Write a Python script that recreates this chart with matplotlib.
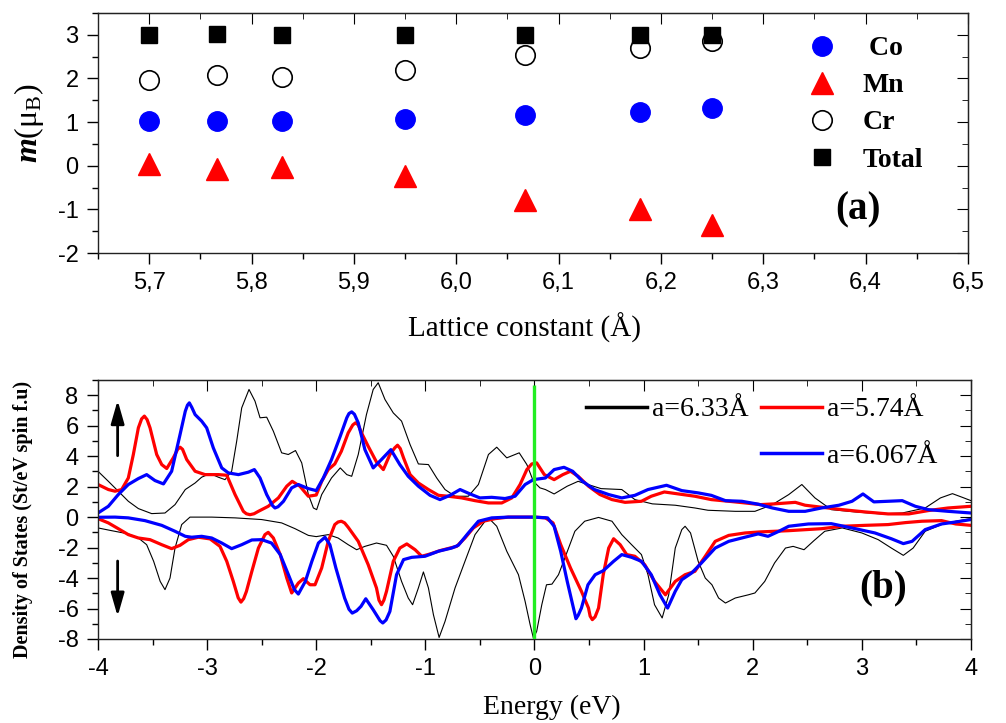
import numpy as np
import matplotlib
matplotlib.use('Agg')
from matplotlib import pyplot as plt
from matplotlib.ticker import MultipleLocator, FuncFormatter

plt.rcParams['font.family'] = ['Liberation Sans', 'DejaVu Sans']
plt.rcParams['axes.unicode_minus'] = False
plt.rcParams['mathtext.fontset'] = 'custom'
plt.rcParams['mathtext.rm'] = 'Liberation Serif'
plt.rcParams['mathtext.it'] = 'Liberation Serif:italic'
plt.rcParams['mathtext.bf'] = 'Liberation Serif:bold'
plt.rcParams['mathtext.bfit'] = 'Liberation Serif:italic:bold'

SERIF = 'Liberation Serif'

# ---- panel (a): moments vs lattice constant
lattice = [5.70, 5.766, 5.83, 5.95, 6.067, 6.18, 6.25]
m_co = [1.03, 1.03, 1.035, 1.065, 1.165, 1.23, 1.32]
m_mn = [0.05, -0.07, -0.03, -0.24, -0.78, -0.98, -1.35]
m_cr = [1.97, 2.075, 2.03, 2.20, 2.54, 2.69, 2.87]
m_total = [3.0, 3.01, 3.0, 3.0, 3.0, 3.0, 3.0]

# ---- panel (b): DOS, (energy, dos) pairs
red_up = [(-4.0, 2.14), (-3.905, 1.81), (-3.844, 1.70), (-3.783, 1.81), (-3.722, 2.57),
          (-3.676, 4.11), (-3.63, 5.86), (-3.60, 6.45), (-3.575, 6.63), (-3.55, 6.40),
          (-3.523, 5.86), (-3.462, 4.11),
          (-3.416, 3.45), (-3.37, 3.19), (-3.31, 3.89), (-3.27, 4.45), (-3.248, 4.59),
          (-3.225, 4.45), (-3.187, 3.78),
          (-3.11, 3.01), (-3.019, 2.79), (-2.897, 2.79), (-2.82, 2.75), (-2.744, 1.48),
          (-2.668, 0.38), (-2.64, 0.22), (-2.607, 0.16), (-2.57, 0.22), (-2.53, 0.38),
          (-2.44, 0.71), (-2.347, 1.26),
          (-2.27, 2.03), (-2.22, 2.35), (-2.15, 2.03), (-2.072, 1.37), (-2.0, 1.45),
          (-1.95, 2.35), (-1.89, 3.12), (-1.83, 3.49), (-1.77, 4.32), (-1.707, 5.53),
          (-1.665, 6.05), (-1.64, 6.19), (-1.615, 6.05), (-1.585, 5.53), (-1.524, 4.65),
          (-1.448, 3.62), (-1.385, 3.12),
          (-1.325, 4.11), (-1.28, 4.55), (-1.255, 4.72), (-1.23, 4.50), (-1.2, 3.89),
          (-1.14, 2.79), (-1.064, 2.24),
          (-0.972, 1.81), (-0.88, 1.43), (-0.789, 1.37), (-0.667, 1.26), (-0.545, 1.08),
          (-0.422, 0.93), (-0.3, 0.93), (-0.208, 1.26), (-0.132, 2.14), (-0.07, 3.12),
          (-0.025, 3.49), (0.02, 3.56), (0.09, 2.79), (0.18, 2.46), (0.26, 2.79),
          (0.33, 3.01), (0.4, 2.68), (0.495, 2.03), (0.6, 1.48), (0.71, 1.15),
          (0.83, 0.97), (0.98, 1.04), (1.07, 1.37), (1.19, 1.65), (1.32, 1.52),
          (1.47, 1.37), (1.62, 1.15), (1.78, 1.04), (1.93, 0.93), (2.07, 0.82),
          (2.2, 0.87), (2.39, 0.97), (2.48, 0.78), (2.63, 0.65), (2.82, 0.49),
          (3.03, 0.34), (3.24, 0.21), (3.43, 0.21), (3.61, 0.43), (3.79, 0.60), (4.0, 0.71)]

blue_up = [(-4.0, 0.27), (-3.905, 0.71), (-3.814, 1.48), (-3.722, 2.14), (-3.63, 2.53),
           (-3.554, 2.79), (-3.478, 2.40), (-3.40, 2.18), (-3.325, 3.01), (-3.248, 5.42),
           (-3.2, 6.95), (-3.18, 7.35), (-3.163, 7.50), (-3.14, 7.20), (-3.11, 6.73),
           (-3.05, 6.30), (-3.004, 5.86),
           (-2.943, 4.54), (-2.866, 3.23), (-2.805, 2.90), (-2.713, 2.79), (-2.622, 2.95),
           (-2.567, 3.12), (-2.515, 2.57), (-2.454, 1.48), (-2.40, 0.75), (-2.378, 0.60),
           (-2.35, 0.68), (-2.3, 1.04),
           (-2.225, 1.92), (-2.164, 2.14), (-2.072, 1.87), (-2.0, 1.74), (-1.935, 2.57),
           (-1.86, 3.78), (-1.78, 5.31), (-1.72, 6.52), (-1.70, 6.80), (-1.675, 6.91),
           (-1.65, 6.75), (-1.615, 6.19),
           (-1.554, 4.43), (-1.478, 3.23), (-1.402, 3.78), (-1.316, 4.43), (-1.234, 3.45),
           (-1.157, 2.68), (-1.064, 2.03), (-0.957, 1.43), (-0.866, 1.15), (-0.774, 1.43),
           (-0.682, 1.81), (-0.59, 1.52), (-0.5, 1.26), (-0.392, 1.30), (-0.27, 1.22),
           (-0.178, 1.37), (-0.086, 2.14), (-0.01, 2.46), (0.1, 2.57), (0.18, 3.12),
           (0.27, 3.27), (0.35, 3.01), (0.44, 2.35), (0.55, 1.81), (0.68, 1.48),
           (0.8, 1.26), (0.92, 1.43), (1.04, 1.81), (1.21, 2.09), (1.35, 1.74),
           (1.5, 1.59), (1.62, 1.43), (1.75, 1.08), (1.9, 1.04), (2.05, 0.85),
           (2.18, 0.60), (2.33, 0.38), (2.48, 0.38), (2.63, 0.60), (2.79, 0.78),
           (2.91, 1.04), (3.01, 1.52), (3.11, 1.00), (3.24, 1.04), (3.37, 1.08),
           (3.49, 0.71), (3.61, 0.49), (3.79, 0.38), (4.0, 0.27)]

black_up = [(-4.0, 3.01), (-3.905, 2.35), (-3.814, 1.70), (-3.722, 1.04), (-3.63, 0.56),
            (-3.508, 0.23), (-3.386, 0.27), (-3.294, 0.82), (-3.2, 1.81), (-3.11, 2.24),
            (-3.05, 2.62), (-2.973, 2.86), (-2.897, 2.62), (-2.836, 2.46), (-2.775, 3.01),
            (-2.729, 4.98), (-2.683, 7.17), (-2.616, 8.38), (-2.561, 7.61), (-2.515, 6.52),
            (-2.454, 6.56), (-2.393, 5.64), (-2.317, 4.22), (-2.256, 4.11), (-2.19, 4.37),
            (-2.133, 3.56), (-2.072, 1.48), (-2.026, 0.60), (-1.996, 0.49), (-1.95, 1.48),
            (-1.86, 2.57), (-1.78, 3.23), (-1.72, 2.79), (-1.675, 2.68), (-1.615, 4.11),
            (-1.54, 6.73), (-1.478, 8.38), (-1.432, 8.82), (-1.37, 7.72), (-1.294, 6.84),
            (-1.218, 6.30), (-1.14, 4.76), (-1.064, 3.49), (-0.972, 3.45), (-0.896, 2.57),
            (-0.82, 1.81), (-0.728, 1.37), (-0.606, 1.37), (-0.514, 2.14), (-0.422, 4.11),
            (-0.346, 4.59), (-0.254, 3.89), (-0.14, 4.22), (-0.07, 3.45), (-0.01, 2.35),
            (0.05, 1.92), (0.1, 1.81), (0.18, 1.52), (0.3, 2.03), (0.4, 2.35),
            (0.49, 2.14), (0.61, 1.87), (0.8, 1.81), (0.92, 1.15), (1.08, 0.87),
            (1.29, 0.78), (1.47, 0.60), (1.59, 0.45), (1.84, 0.38), (2.02, 0.38),
            (2.18, 0.82), (2.33, 1.48), (2.45, 2.14), (2.57, 1.26), (2.72, 0.49),
            (2.94, 0.34), (3.18, 0.21), (3.37, 0.27), (3.58, 0.60), (3.72, 1.26),
            (3.83, 1.54), (3.92, 1.30), (4.0, 1.08)]

red_dn = [(-4.0, -0.10), (-3.905, -0.38), (-3.814, -0.76), (-3.722, -1.15), (-3.63, -1.37),
          (-3.523, -1.48), (-3.416, -1.81), (-3.325, -2.07), (-3.248, -1.85), (-3.172, -1.48),
          (-3.08, -1.32), (-2.973, -1.43), (-2.882, -1.92), (-2.82, -2.90), (-2.76, -4.22),
          (-2.715, -5.30), (-2.69, -5.58), (-2.665, -5.35), (-2.64, -4.88), (-2.59, -3.56),
          (-2.53, -2.03), (-2.47, -1.15),
          (-2.44, -1.00), (-2.393, -1.37), (-2.33, -2.46), (-2.27, -4.00), (-2.225, -4.98),
          (-2.164, -4.33), (-2.118, -4.04), (-2.057, -4.44), (-2.011, -4.44), (-1.95, -3.34),
          (-1.89, -1.59), (-1.83, -0.49), (-1.80, -0.32), (-1.77, -0.27), (-1.74, -0.38),
          (-1.707, -0.67), (-1.615, -1.59),
          (-1.524, -3.12), (-1.448, -4.65), (-1.425, -5.45), (-1.402, -5.75), (-1.38, -5.45),
          (-1.356, -4.87), (-1.294, -2.90),
          (-1.234, -2.03), (-1.17, -1.76), (-1.094, -2.14), (-1.033, -2.57), (-0.957, -2.42),
          (-0.866, -2.20), (-0.774, -2.03), (-0.713, -1.92), (-0.637, -1.37), (-0.56, -0.71),
          (-0.468, -0.27), (-0.36, -0.10), (-0.24, 0.0), (0.0, 0.0), (0.1, -0.05),
          (0.17, -0.38), (0.24, -1.80), (0.33, -3.34), (0.43, -4.87), (0.495, -5.97),
          (0.51, -6.50), (0.53, -6.73), (0.555, -6.55), (0.587, -5.97), (0.63, -3.78),
          (0.68, -2.03), (0.725, -1.42),
          (0.785, -1.81), (0.845, -2.46), (0.92, -2.57), (1.01, -3.12), (1.1, -4.22),
          (1.2, -5.10), (1.29, -4.22), (1.38, -3.78), (1.47, -3.56), (1.565, -2.57),
          (1.656, -1.59), (1.78, -1.20), (1.93, -1.04), (2.07, -0.97), (2.33, -0.89),
          (2.63, -0.76), (2.82, -0.60), (3.03, -0.54), (3.24, -0.49), (3.4, -0.36),
          (3.55, -0.27), (3.73, -0.23), (3.86, -0.45), (4.0, -0.54)]

blue_dn = [(-4.0, -0.01), (-3.844, 0.0), (-3.722, -0.05), (-3.57, -0.23), (-3.416, -0.54),
           (-3.294, -0.93), (-3.2, -1.26), (-3.141, -1.32), (-3.05, -1.26), (-2.958, -1.37),
           (-2.866, -1.70), (-2.775, -2.07), (-2.683, -1.81), (-2.59, -1.50), (-2.5, -1.48),
           (-2.41, -1.70), (-2.33, -2.46), (-2.255, -3.78), (-2.2, -4.76), (-2.164, -5.05),
           (-2.1, -4.22), (-2.04, -2.90), (-1.98, -1.70), (-1.92, -1.32), (-1.875, -1.81),
           (-1.82, -3.34), (-1.74, -5.31), (-1.70, -6.05), (-1.67, -6.30), (-1.63, -6.15),
           (-1.59, -5.86), (-1.546, -5.36),
           (-1.478, -6.08), (-1.415, -6.80), (-1.39, -6.95), (-1.36, -6.75), (-1.325, -6.19),
           (-1.264, -3.78), (-1.2, -2.79),
           (-1.125, -2.64), (-1.003, -2.57), (-0.88, -2.24), (-0.759, -2.03), (-0.698, -1.85),
           (-0.606, -1.04), (-0.514, -0.27), (-0.392, -0.05), (-0.24, 0.0), (0.0, 0.0),
           (0.12, -0.05), (0.18, -0.60), (0.24, -2.24), (0.3, -4.22), (0.357, -5.97),
           (0.38, -6.67), (0.40, -6.45), (0.43, -5.97), (0.49, -4.44), (0.556, -3.78),
           (0.63, -3.52),
           (0.725, -2.90), (0.8, -2.46), (0.89, -2.64), (0.98, -2.90), (1.07, -3.78),
           (1.15, -5.10), (1.22, -5.97), (1.29, -4.87), (1.35, -4.11), (1.44, -3.67),
           (1.53, -3.01), (1.656, -2.03), (1.78, -1.59), (1.9, -1.37), (2.05, -1.10),
           (2.14, -1.26), (2.24, -0.93), (2.33, -0.60), (2.51, -0.45), (2.72, -0.43),
           (2.94, -0.76), (3.12, -1.04), (3.27, -1.42), (3.38, -1.74), (3.46, -1.59),
           (3.58, -0.82), (3.73, -0.45), (3.86, -0.32), (4.0, -0.16)]

black_dn = [(-4.0, -0.71), (-3.875, -0.89), (-3.722, -1.10), (-3.63, -1.37), (-3.554, -1.81),
            (-3.49, -2.90), (-3.43, -4.22), (-3.386, -4.76), (-3.34, -4.00), (-3.294, -2.03),
            (-3.233, -0.49), (-3.157, 0.0), (-2.958, 0.0), (-2.744, -0.05), (-2.5, -0.16),
            (-2.317, -0.38), (-2.194, -0.76), (-2.072, -1.20), (-2.0, -1.28), (-1.89, -1.15),
            (-1.8, -1.37), (-1.707, -1.81), (-1.63, -2.14), (-1.554, -1.92), (-1.448, -1.70),
            (-1.356, -1.85), (-1.294, -2.57), (-1.218, -4.22), (-1.157, -5.31), (-1.117, -5.75),
            (-1.064, -4.65), (-1.018, -3.60), (-0.972, -4.65), (-0.926, -6.41), (-0.874, -7.90),
            (-0.82, -6.85), (-0.728, -4.65), (-0.637, -2.90), (-0.545, -1.15), (-0.453, -0.27),
            (-0.407, -0.16), (-0.346, -0.60), (-0.254, -2.24), (-0.147, -3.78), (-0.086, -5.53),
            (-0.04, -7.06), (-0.01, -7.94), (0.02, -7.50), (0.067, -5.75), (0.11, -4.44),
            (0.16, -4.40), (0.22, -3.78), (0.29, -2.46), (0.37, -0.93), (0.46, -0.27),
            (0.587, -0.02), (0.71, -0.27), (0.8, -1.15), (0.89, -1.81), (0.98, -2.46),
            (1.04, -3.78), (1.1, -5.75), (1.17, -6.62), (1.23, -5.10), (1.29, -2.03),
            (1.35, -0.82), (1.38, -0.60), (1.43, -1.04), (1.5, -2.90), (1.565, -4.00),
            (1.626, -4.44), (1.687, -5.31), (1.75, -5.64), (1.84, -5.31), (1.96, -5.10),
            (2.02, -4.98), (2.11, -4.22), (2.2, -3.01), (2.3, -2.03), (2.37, -1.92),
            (2.47, -2.14), (2.56, -1.55), (2.66, -0.93), (2.82, -0.71), (3.0, -1.04),
            (3.15, -1.48), (3.27, -2.03), (3.38, -2.51), (3.47, -2.03), (3.58, -0.93),
            (3.73, -0.49), (3.86, -0.27), (4.0, -0.10)]

fermi_level = 0.0
fermi_span = (-8.0, 8.7)
arrow_x = -3.82
spin_up_arrow = (3.85, 7.85)
spin_dn_arrow = (-2.7, -6.7)


def comma_fmt(v, pos):
    return f'{v:.1f}'.replace('.', ',')


def style_axis(ax, xmaj, xmin, ymaj, ymin):
    ax.xaxis.set_major_locator(MultipleLocator(xmaj))
    ax.xaxis.set_minor_locator(MultipleLocator(xmin))
    ax.yaxis.set_major_locator(MultipleLocator(ymaj))
    ax.yaxis.set_minor_locator(MultipleLocator(ymin))
    ax.tick_params(which='major', direction='out', length=8, width=1, labelsize=17, pad=6)
    ax.tick_params(which='minor', direction='out', length=4.5, width=1)
    for s in ax.spines.values():
        s.set_linewidth(1.0)
        s.set_color('#222222')
    # mirrored ticks pointing inwards on top / right
    top = ax.secondary_xaxis('top')
    top.xaxis.set_major_locator(MultipleLocator(xmaj))
    top.xaxis.set_minor_locator(MultipleLocator(xmin))
    top.tick_params(which='major', direction='in', length=8, labeltop=False)
    top.tick_params(which='minor', direction='in', length=4.5)
    right = ax.secondary_yaxis('right')
    right.yaxis.set_major_locator(MultipleLocator(ymaj))
    right.yaxis.set_minor_locator(MultipleLocator(ymin))
    right.tick_params(which='major', direction='in', length=8, labelright=False)
    right.tick_params(which='minor', direction='in', length=4.5)


fig = plt.figure(figsize=(10.06, 7.23), dpi=100)
ax1 = fig.add_axes([0.0974, 0.650, 0.8648, 0.332])
ax2 = fig.add_axes([0.0974, 0.1162, 0.8678, 0.3582])

# ---------- (a)
ax1.plot(lattice, m_co, 'o', ls='none', color='#0000ff', ms=14, label=' Co')
ax1.plot(lattice, m_mn, '^', ls='none', color='#ff0000', ms=16, label='Mn')
ax1.plot(lattice, m_cr, 'o', ls='none', mfc='white', mec='black', mew=1.2, ms=14, label='Cr')
ax1.plot(lattice, m_total, 's', ls='none', color='black', ms=12, label='Total')
ax1.set_xlim(5.65, 6.5)
ax1.set_ylim(-2, 3.5)
style_axis(ax1, 0.1, 0.05, 1, 0.5)
ax1.xaxis.set_major_formatter(FuncFormatter(comma_fmt))
ax1.legend(loc='upper right', bbox_to_anchor=(0.948, 0.905), frameon=False,
           prop={'family': SERIF, 'weight': 'bold', 'size': 20},
           handlelength=1.0, handletextpad=0.95, labelspacing=0.42,
           borderpad=0, borderaxespad=0, numpoints=1)
ax1.text(0.874, 0.179, '(a)', transform=ax1.transAxes, ha='center', va='center',
         family=SERIF, weight='bold', fontsize=28)

# ---------- (b)
curves = [(black_up, 'black', 0.8), (black_dn, 'black', 0.8),
          (red_up, '#ff0000', 2.3), (red_dn, '#ff0000', 2.3),
          (blue_up, '#0000ff', 2.3), (blue_dn, '#0000ff', 2.3)]
for data, col, lw in curves:
    e, d = zip(*data)
    ax2.plot(e, d, color=col, lw=lw, solid_joinstyle='round')

ax2.vlines(fermi_level, fermi_span[0], fermi_span[1], color='#22ee22', lw=2.4, zorder=5)
for y0, y1 in (spin_up_arrow, spin_dn_arrow):
    ax2.annotate('', xy=(arrow_x, y1), xytext=(arrow_x, y0),
                 arrowprops=dict(arrowstyle='-|>,head_length=0.7,head_width=0.2',
                                 lw=2, color='black'),
                 fontsize=20)
ax2.set_xlim(-4, 4)
ax2.set_ylim(-8, 9)
style_axis(ax2, 1, 0.5, 2, 1)

leg_handles = [plt.Line2D([], [], color='black', lw=2.5),
               plt.Line2D([], [], color='none'),
               plt.Line2D([], [], color='#ff0000', lw=2.5),
               plt.Line2D([], [], color='#0000ff', lw=2.5)]
leg_labels = ['a=6.33Å', '', 'a=5.74Å', 'a=6.067Å']
ax2.legend(leg_handles, leg_labels, ncol=2, loc='upper right',
           bbox_to_anchor=(0.962, 0.935), frameon=False,
           prop={'family': SERIF, 'size': 20}, handlelength=2.2, handletextpad=0.18,
           columnspacing=0.45, labelspacing=0.75, borderpad=0, borderaxespad=0)
ax2.text(0.899, 0.197, '(b)', transform=ax2.transAxes, ha='center', va='center',
         family=SERIF, weight='bold', fontsize=28)

# axis titles
fig.text(0.521, 0.546, 'Lattice constant (Å)', ha='center', va='center', family=SERIF, fontsize=21)
fig.text(0.549, 0.022, 'Energy (eV)', ha='center', va='center', family=SERIF, fontsize=20)
fig.text(0.029, 0.83, r'$\mathbfit{m}$(μ$_\mathrm{B}$)', ha='center', va='center',
         rotation=90, family=SERIF, fontsize=23)
fig.text(0.023, 0.281, 'Density of States (St/eV spin f.u)', ha='center', va='center',
         rotation=90, family=SERIF, weight='bold', fontsize=14.5)

fig.savefig('out.png', dpi=100)
